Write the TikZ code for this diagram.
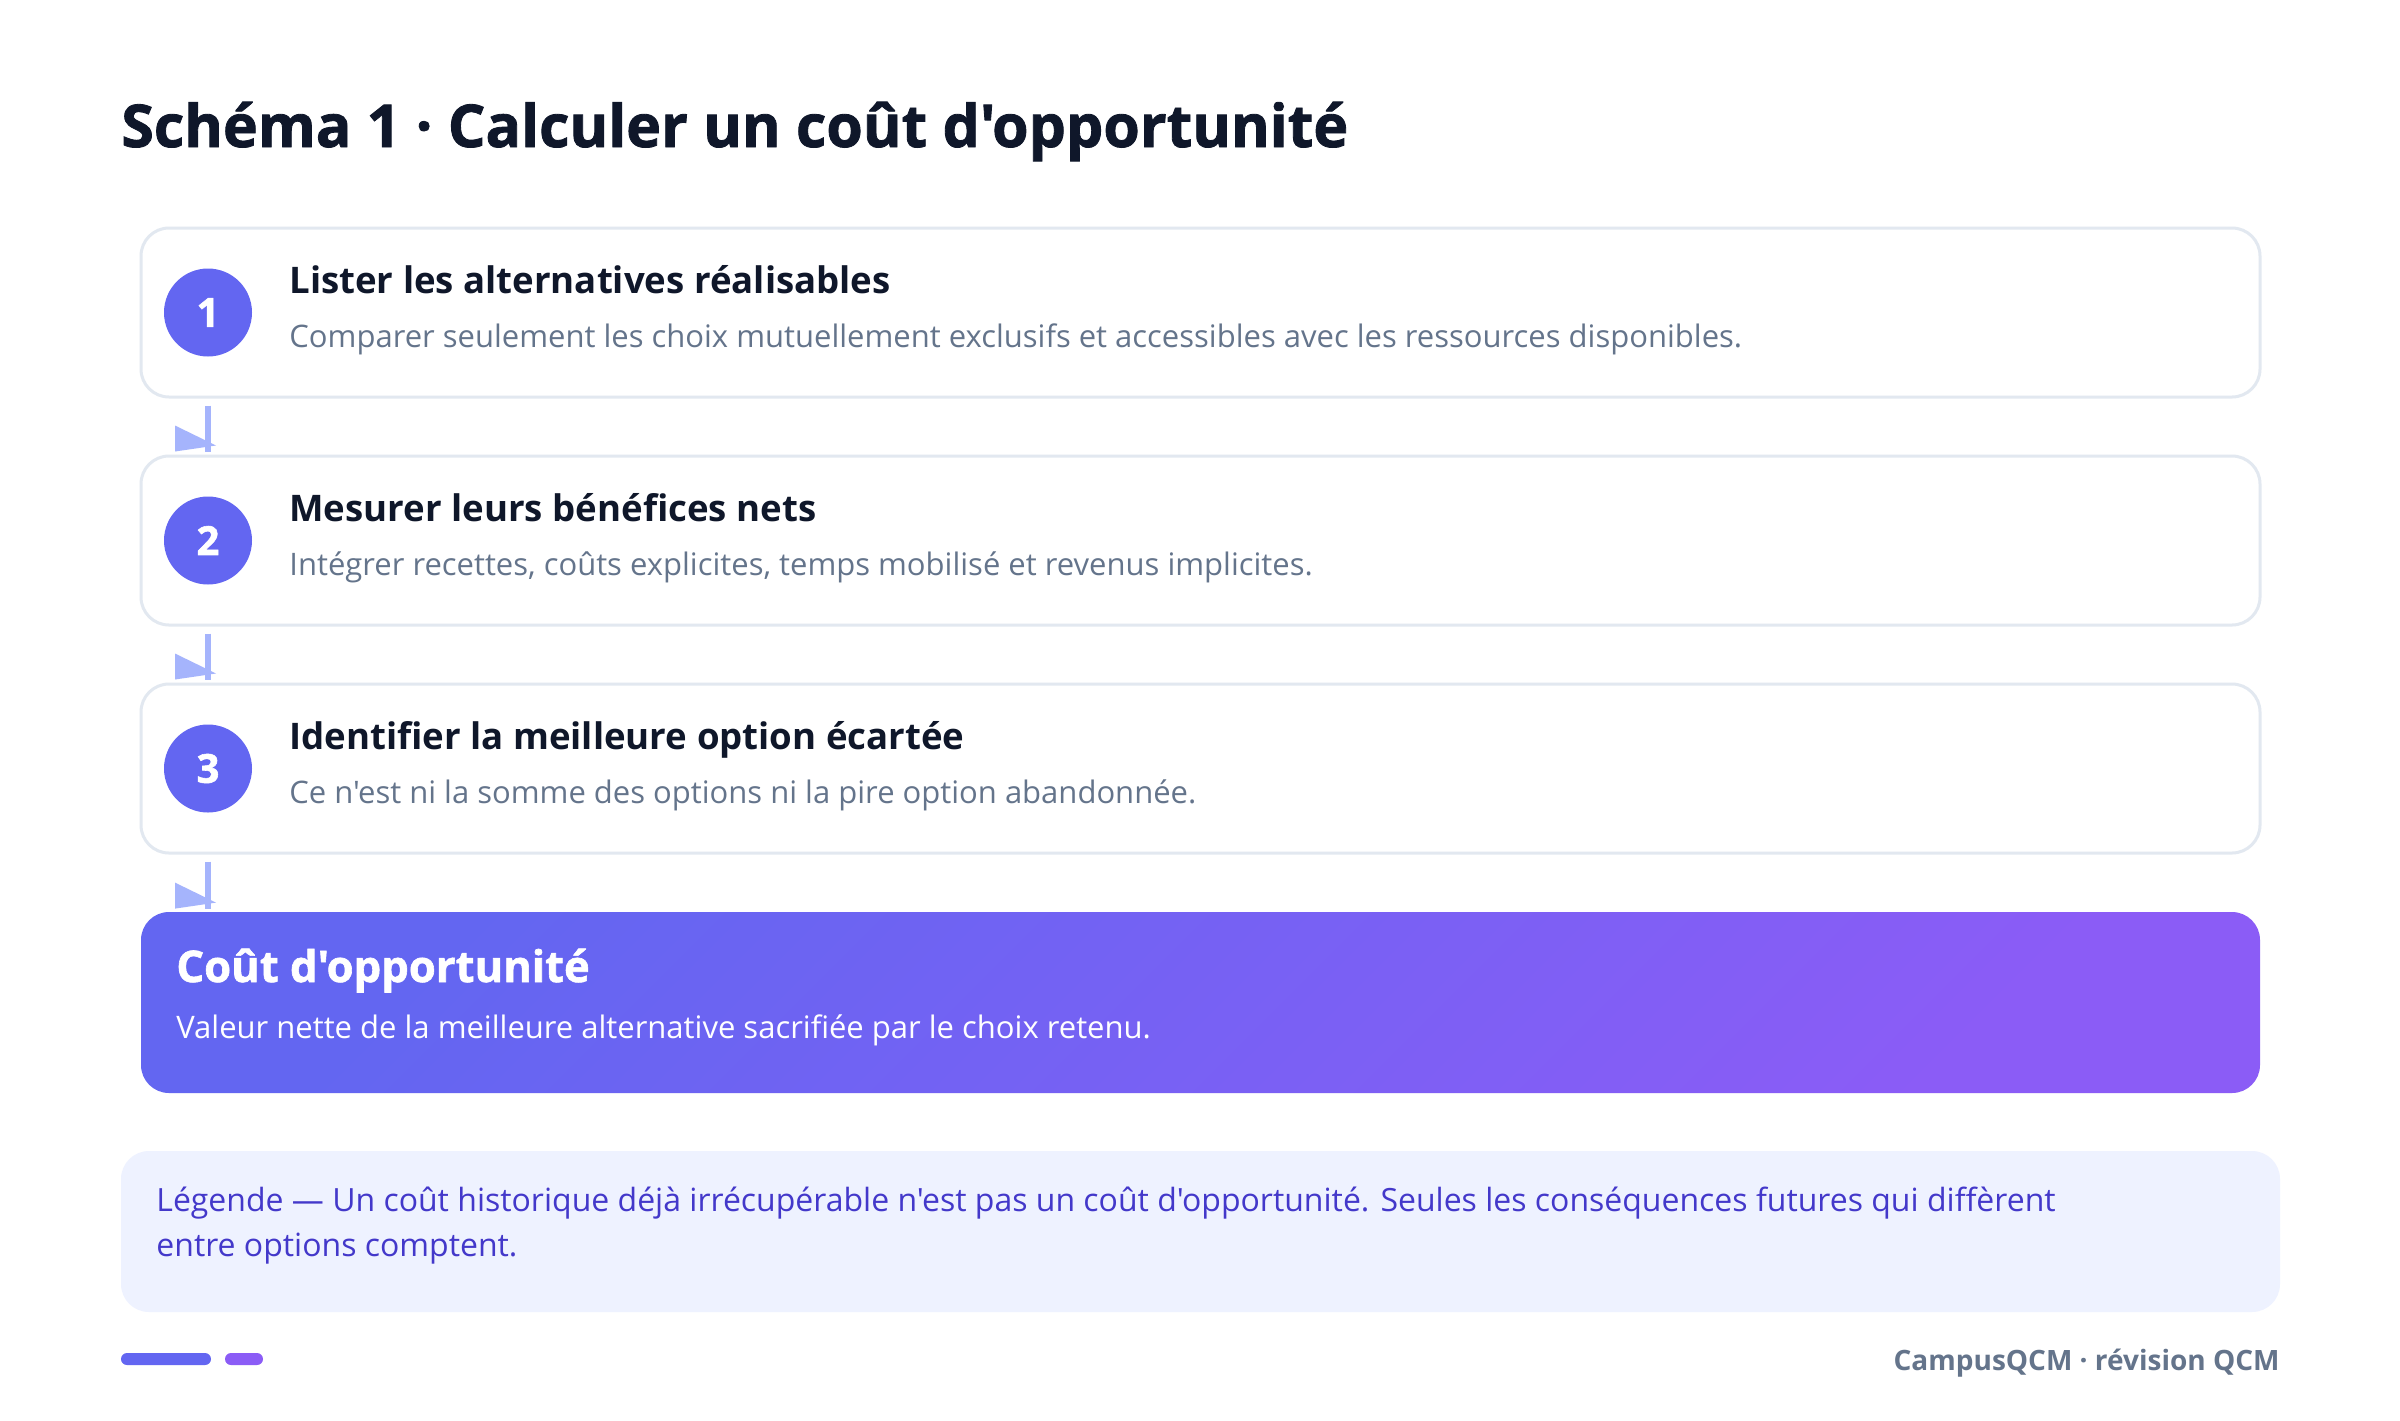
\documentclass[tikz,border=0pt]{standalone}
\usepackage{fontspec}
\newfontfamily\basefont{Open Sans}
\newfontfamily\heavyfont{Open Sans}[BoldFeatures={FakeBold=1.4}]
\usetikzlibrary{calc}
\definecolor{ink}{HTML}{0F172A}
\definecolor{muted}{HTML}{64748B}
\definecolor{indigo}{HTML}{6366F1}
\definecolor{violet}{HTML}{8B5CF6}
\definecolor{edge}{HTML}{E2E8F0}
\definecolor{arrowc}{HTML}{A5B4FC}
\definecolor{legbg}{HTML}{EEF2FF}
\definecolor{legtxt}{HTML}{4338CA}
\newcommand\fs[1]{\fontsize{#1}{1.2\dimexpr#1\relax}\selectfont}
\tikzset{
  x=0.5pt, y=-0.5pt,
  stepbox/.style={draw=edge, line width=1.5pt, fill=white, rounded corners=14pt,
    minimum width=1059.5pt, minimum height=84.5pt, inner sep=0pt},
  numdot/.style={circle, fill=indigo, text=white, minimum size=44pt, inner sep=0pt,
    font=\heavyfont\fs{20pt}\bfseries},
  steptitle/.style={anchor=base west, inner sep=0pt, text=ink, font=\basefont\fs{18.3pt}\bfseries},
  stepsub/.style={anchor=base west, inner sep=0pt, text=muted, font=\basefont\fs{15.5pt}},
  flowline/.style={draw=arrowc, line width=3pt},
  tipshape/.style={fill=arrowc},
}
\begin{document}
\begin{tikzpicture}
\useasboundingbox[fill=white] (0,0) rectangle (2400,1420);
% title
\node[anchor=base west, inner sep=0pt, text=ink, font=\heavyfont\fs{29.5pt}\bfseries] (title) at (121,147) {Schéma 1 · Calculer un coût d'opportunité};
% step boxes
\node[stepbox] (b1) at (1200.5,312.5) {};
\node[stepbox] (b2) at (1200.5,540.5) {};
\node[stepbox] (b3) at (1200.5,768.5) {};
\node[rounded corners=14pt, minimum width=1059.5pt, minimum height=90.5pt, inner sep=0pt,
  left color=indigo, right color=violet, shading angle=45] (b4) at (1200.5,1002.5) {};
% circles
\node[numdot] (c1) at (208,312.5) {1};
\node[numdot] (c2) at (208,540.5) {2};
\node[numdot] (c3) at (208,768.5) {3};
% texts
\node[steptitle] (t1) at (289,293) {Lister les alternatives réalisables};
\node[stepsub] (s1) at (289,347) {Comparer seulement les choix mutuellement exclusifs et accessibles avec les ressources disponibles.};
\node[steptitle] (t2) at (289,521) {Mesurer leurs bénéfices nets};
\node[stepsub] (s2) at (289,575) {Intégrer recettes, coûts explicites, temps mobilisé et revenus implicites.};
\node[steptitle] (t3) at (289,749) {Identifier la meilleure option écartée};
\node[stepsub] (s3) at (289,803) {Ce n'est ni la somme des options ni la pire option abandonnée.};
\node[anchor=base west, inner sep=0pt, text=white, font=\heavyfont\fs{21.8pt}\bfseries] (t4) at (176,982) {Coût d'opportunité};
\node[anchor=base west, inner sep=0pt, text=white, font=\basefont\fs{15.5pt}] (s4) at (176,1038) {Valeur nette de la meilleure alternative sacrifiée par le choix retenu.};
% connectors
\foreach \a/\b in {b1/b2, b2/b3, b3/b4}{
  \coordinate (st) at ($(c1.center |- \a.south)+(0,7)$);
  \coordinate (en) at ($(c1.center |- \b.north)+(0,-3)$);
  \draw[flowline] (st) -- (en);
  \fill[tipshape] ($(en)+(-33,-26)$) -- ($(en)+(8,-6)$) -- ($(en)+(-33,0)$) -- cycle;
}
% legend
\node[fill=legbg, rounded corners=14pt, minimum width=1079.5pt, minimum height=80.5pt, inner sep=0pt] (leg) at (1200.5,1231.5) {};
\node[anchor=base west, inner sep=0pt, text=legtxt, font=\basefont\fontsize{16pt}{22.5pt}\selectfont, align=left] (legt) at (156,1256)
  {Légende — Un coût historique déjà irrécupérable n'est pas un coût d'opportunité. Seules les conséquences futures qui diffèrent\\entre options comptent.};
% footer
\fill[indigo, rounded corners=3pt] (121,1353) rectangle (211,1365);
\fill[violet, rounded corners=3pt] (225,1353) rectangle (263,1365);
\node[anchor=base east, inner sep=0pt, text=muted, font=\basefont\fs{14pt}\bfseries] (foot) at (2280,1370) {CampusQCM · révision QCM};
\end{tikzpicture}
\end{document}
